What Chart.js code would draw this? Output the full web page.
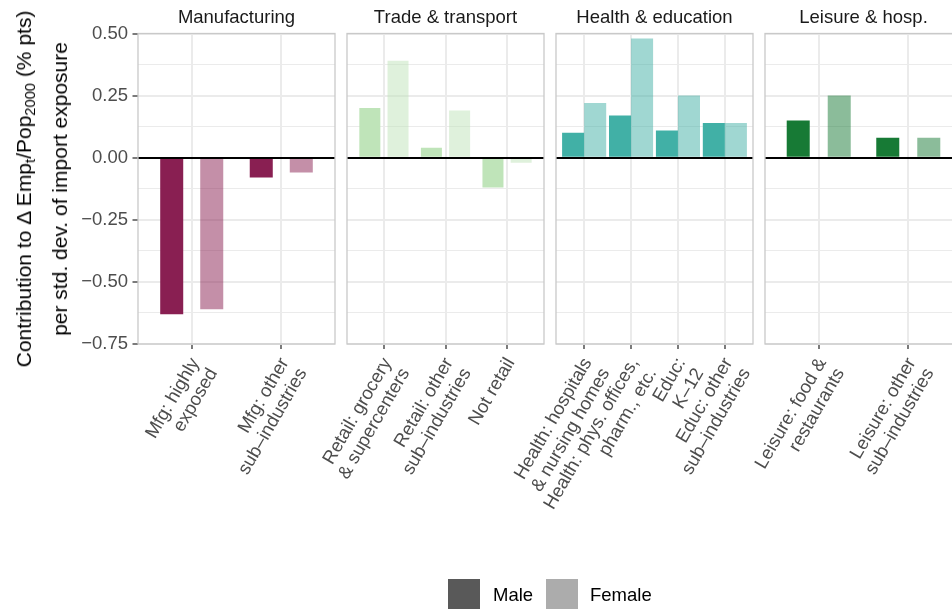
<!DOCTYPE html>
<html><head><meta charset="utf-8">
<script src="https://cdn.jsdelivr.net/npm/chart.js@4.4.0/dist/chart.umd.min.js"></script>
<style>
html,body{margin:0;padding:0;background:#fff;overflow:hidden;}
#wrap{position:relative;width:952px;height:609px;overflow:hidden;font-family:"Liberation Sans",Arial,Helvetica,sans-serif;background:#fff;}
canvas{position:absolute;left:0;top:0;}
.strip{position:absolute;top:7.7px;font-size:18.5px;line-height:18.5px;color:#1a1a1a;transform:translateX(-50%);white-space:nowrap;}
#ytitle{position:absolute;left:42px;top:189px;transform:translate(-50%,-50%) rotate(-90deg);text-align:center;white-space:nowrap;font-size:21px;color:#000;}
#ytitle div{height:36px;line-height:36px;}
.sub{font-size:70%;position:relative;top:0.3em;}
.key{position:absolute;top:579px;width:32px;height:32px;}
.ltext{position:absolute;top:585.7px;font-size:18.5px;line-height:18.5px;color:#000;white-space:nowrap;}
</style></head>
<body><div id="wrap">
<canvas id="c1" width="970" height="609"></canvas>
<canvas id="c2" width="970" height="609"></canvas>
<canvas id="c3" width="970" height="609"></canvas>
<canvas id="c4" width="970" height="609"></canvas>
<div id="strips"></div>
<div id="ytitle"><div>Contribution to Δ Emp<span class="sub">t</span>/Pop<span class="sub">2000</span> (% pts)</div><div>per std. dev. of import exposure</div></div>
<div id="legend"></div>
</div>
<script>
// ---- data ----
const facets = ["Manufacturing", "Trade & transport", "Health & education", "Leisure & hosp."];
const seriesNames = ["Male", "Female"];

const mfgCats = [["Mfg: highly", "exposed"], ["Mfg: other", "sub–industries"]];
const mfgMale = [-0.63, -0.08];
const mfgFemale = [-0.61, -0.06];

const tradeCats = [["Retail: grocery", "& supercenters"], ["Retail: other", "sub–industries"], ["Not retail"]];
const tradeMale = [0.20, 0.04, -0.12];
const tradeFemale = [0.39, 0.19, -0.02];

const healthCats = [["Health: hospitals", "& nursing homes"], ["Health: phys. offices,", "pharm., etc."], ["Educ:", "K–12"], ["Educ: other", "sub–industries"]];
const healthMale = [0.10, 0.17, 0.11, 0.14];
const healthFemale = [0.22, 0.48, 0.25, 0.14];

const leisureCats = [["Leisure: food &", "restaurants"], ["Leisure: other", "sub–industries"]];
const leisureMale = [0.15, 0.08];
const leisureFemale = [0.25, 0.08];

const yMajorTicks = [-0.75, -0.5, -0.25, 0, 0.25, 0.5];
const yTickLabels = ["−0.75", "−0.50", "−0.25", "0.00", "0.25", "0.50"];
const yMinorTicks = [-0.625, -0.375, -0.125, 0.125, 0.375];

// ---- style ----
const FONT = '"Liberation Sans", Arial, Helvetica, sans-serif';
const CANVAS_W = 970;
const legendColors = ["#595959", "#ACACAC"];

const panelBorder = {
  id: 'panelBorder',
  afterDraw(chart) {
    const {ctx, chartArea: a} = chart;
    ctx.save();
    ctx.strokeStyle = '#C9C9C9';
    ctx.lineWidth = 1.3;
    ctx.strokeRect(a.left, a.top, a.right - a.left, a.bottom - a.top);
    ctx.restore();
  }
};

function makePanel(id, cats, male, female, colM, colF, left, right, catPct, barPct, showY) {
  const n = cats.length;
  const yAll = yMajorTicks.concat(yMinorTicks).sort((a, b) => a - b);
  const isMajor = v => yMajorTicks.some(m => Math.abs(m - v) < 1e-9);
  new Chart(document.getElementById(id), {
    type: 'bar',
    data: {
      datasets: [
        {label: seriesNames[0], data: male.map((v, i) => ({x: i + 1, y: v})), backgroundColor: colM,
         categoryPercentage: catPct, barPercentage: barPct, xAxisID: 'x', yAxisID: 'y'},
        {label: seriesNames[1], data: female.map((v, i) => ({x: i + 1, y: v})), backgroundColor: colF,
         categoryPercentage: catPct, barPercentage: barPct, xAxisID: 'x', yAxisID: 'y'}
      ]
    },
    options: {
      responsive: false, animation: false, devicePixelRatio: 1,
      layout: {padding: {left: showY ? 0 : left, right: CANVAS_W - right, top: 33.5, bottom: 0}},
      plugins: {legend: {display: false}, tooltip: {enabled: false}, title: {display: false}},
      scales: {
        x: {
          type: 'linear', min: 0.4, max: n + 0.6, position: 'bottom', offset: false,
          afterBuildTicks: s => { s.ticks = cats.map((_, i) => ({value: i + 1})); },
          afterFit: s => { s.height = 265; },
          grid: {offset: false, color: '#EBEBEB', lineWidth: 2, z: -2, drawTicks: true, tickLength: 5, tickColor: '#333333', tickWidth: 1.3},
          border: {display: false},
          ticks: {autoSkip: false, minRotation: 60, maxRotation: 60, padding: 5.4, labelOffset: 3.5, color: '#4D4D4D',
                  font: {family: FONT, size: 18.5, lineHeight: 1.12},
                  callback: (v) => cats[Math.round(v) - 1]}
        },
        y: {
          type: 'linear', min: -0.75, max: 0.5, position: 'left',
          afterBuildTicks: s => { s.ticks = yAll.map(v => ({value: v})); },
          afterFit: s => { s.width = showY ? left : 0; },
          grid: {
            z: -1,
            color: '#EBEBEB',
            lineWidth: c => (c.tick && isMajor(c.tick.value)) ? 2 : 1,
            drawTicks: showY, tickLength: 5.5, tickWidth: 1.3,
            tickColor: c => (c.tick && isMajor(c.tick.value)) ? '#333333' : 'rgba(0,0,0,0)'
          },
          border: {display: false},
          ticks: {display: showY, padding: 4.5, color: '#4D4D4D', font: {family: FONT, size: 18.5},
                  callback: (v) => { const k = yMajorTicks.findIndex(m => Math.abs(m - v) < 1e-9); return k >= 0 ? yTickLabels[k] : ''; }}
        },
        yz: {
          type: 'linear', min: -0.75, max: 0.5, position: 'left',
          afterBuildTicks: s => { s.ticks = [{value: 0}]; },
          afterFit: s => { s.width = 0; },
          grid: {z: 1, color: '#000000', lineWidth: 2, drawTicks: false},
          border: {display: false},
          ticks: {display: false}
        }
      }
    },
    plugins: [panelBorder]
  });
}

const panels = [
  {id: 'c1', cats: mfgCats, m: mfgMale, f: mfgFemale, cm: '#891F52', cf: 'rgba(137,31,82,0.5)', l: 138, r: 335, cp: 0.894, bp: 0.575, y: true},
  {id: 'c2', cats: tradeCats, m: tradeMale, f: tradeFemale, cm: '#BFE4B9', cf: 'rgba(191,228,185,0.5)', l: 347, r: 544, cp: 0.916, bp: 0.745, y: false},
  {id: 'c3', cats: healthCats, m: healthMale, f: healthFemale, cm: '#41B0A6', cf: 'rgba(65,176,166,0.5)', l: 556, r: 753, cp: 0.94, bp: 1.0, y: false},
  {id: 'c4', cats: leisureCats, m: leisureMale, f: leisureFemale, cm: '#177A35', cf: 'rgba(23,122,53,0.5)', l: 765, r: 962, cp: 0.916, bp: 0.561, y: false}
];
panels.forEach(p => makePanel(p.id, p.cats, p.m, p.f, p.cm, p.cf, p.l, p.r, p.cp, p.bp, p.y));

// strip labels
const strips = document.getElementById('strips');
panels.forEach((p, i) => {
  const d = document.createElement('div');
  d.className = 'strip';
  d.style.left = ((p.l + p.r) / 2) + 'px';
  d.textContent = facets[i];
  strips.appendChild(d);
});

// legend
const legend = document.getElementById('legend');
const keyX = [448, 546], textX = [493, 590];
seriesNames.forEach((s, i) => {
  const k = document.createElement('div');
  k.className = 'key'; k.style.left = keyX[i] + 'px'; k.style.background = legendColors[i];
  legend.appendChild(k);
  const t = document.createElement('div');
  t.className = 'ltext'; t.style.left = textX[i] + 'px'; t.textContent = s;
  legend.appendChild(t);
});
</script>
</body></html>
